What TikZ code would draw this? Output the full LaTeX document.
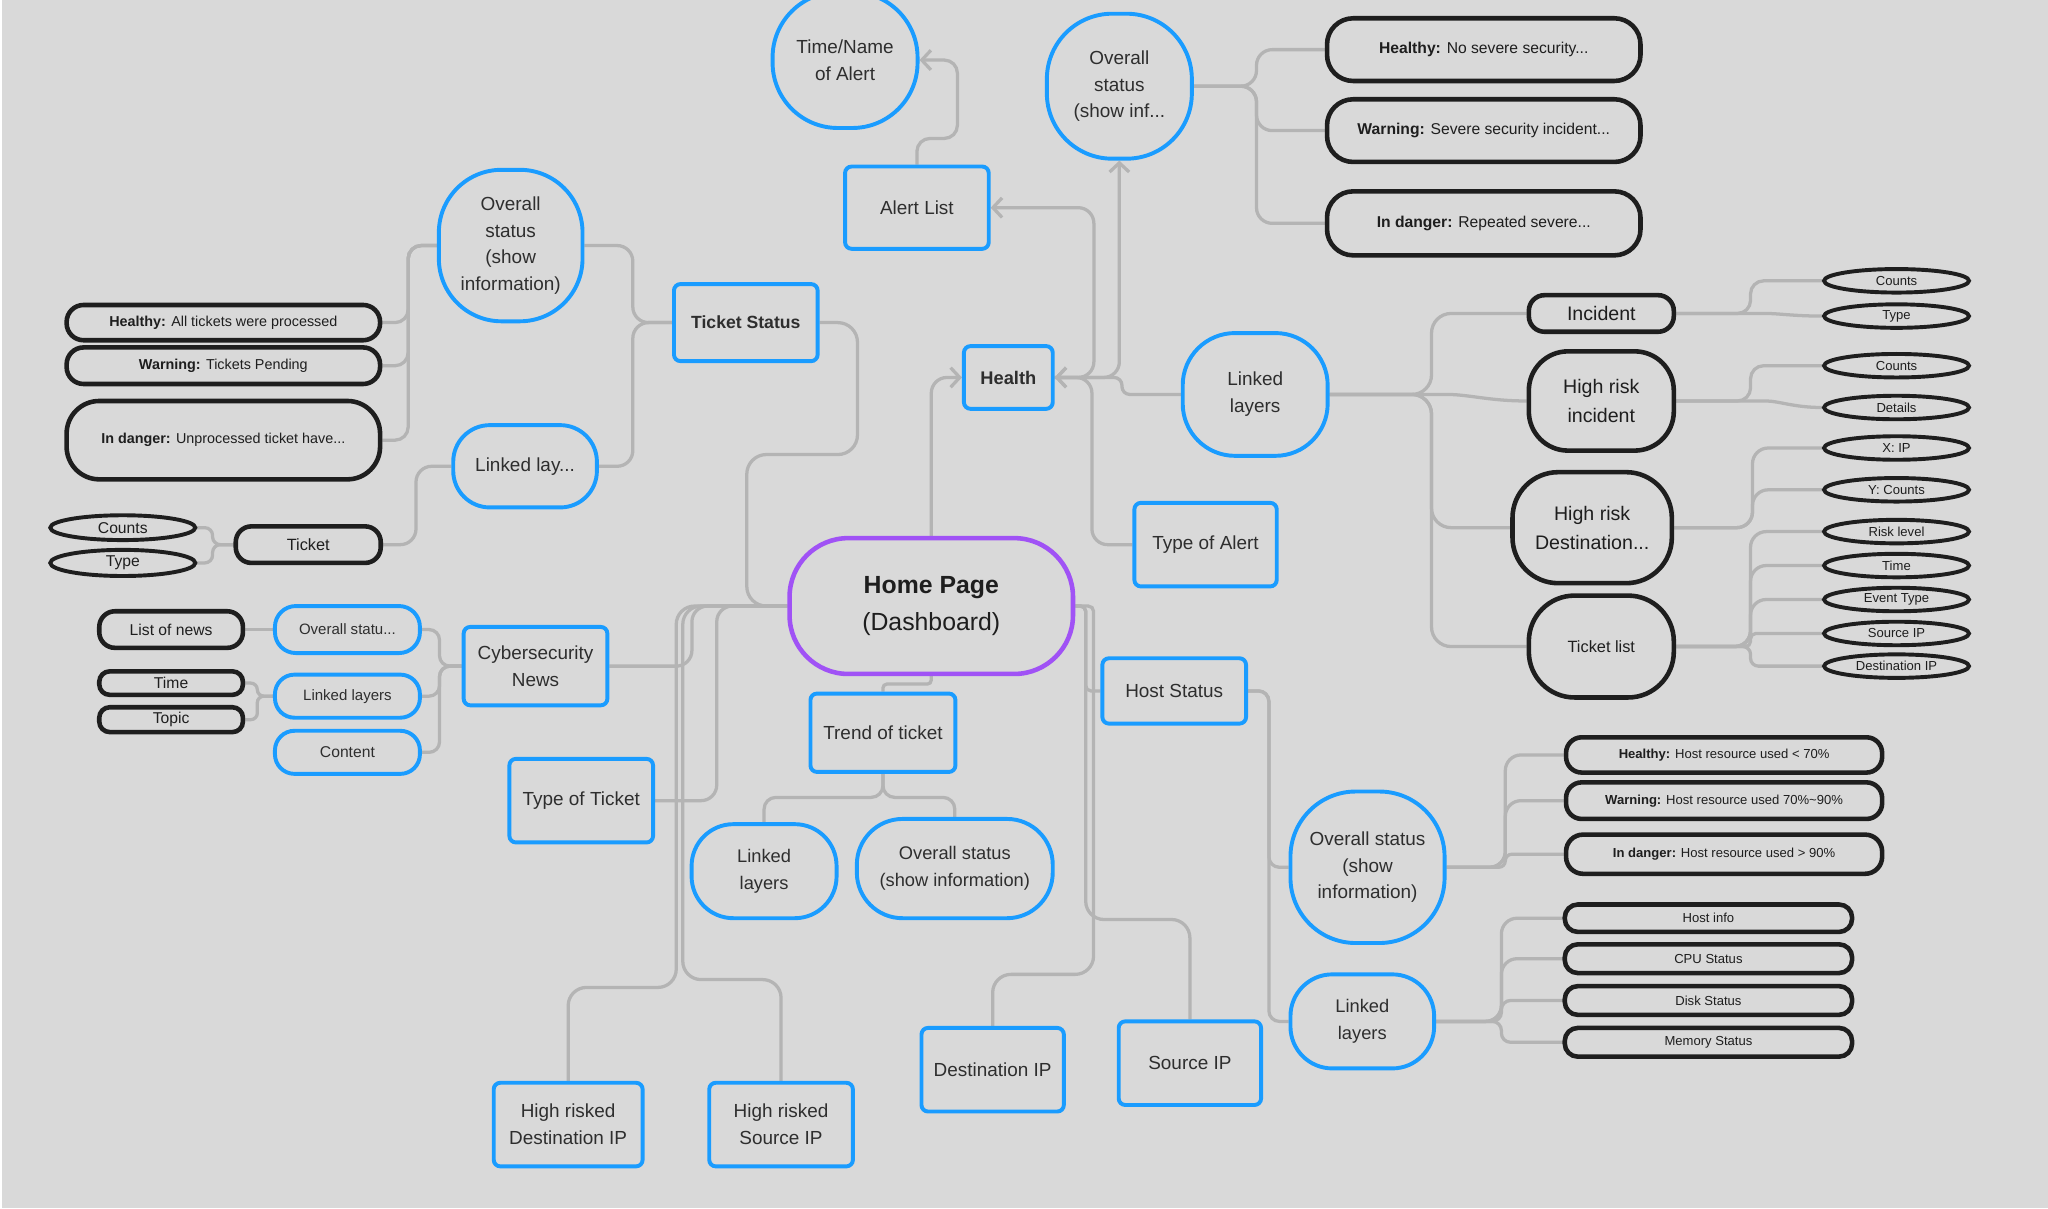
\documentclass[tikz,border=0pt]{standalone}
\usepackage{fontspec}
\setmainfont{Liberation Sans}
\usetikzlibrary{shapes.geometric,arrows.meta}
\pgfdeclarelayer{bgl}
\pgfdeclarelayer{conl}
\pgfsetlayers{bgl,conl,main}
\definecolor{bg}{HTML}{D9D9D9}
\definecolor{myblue}{HTML}{1A9CFF}
\definecolor{myblack}{HTML}{1E1E1E}
\definecolor{mypurple}{HTML}{A052F5}
\definecolor{lineg}{HTML}{B4B4B4}
\definecolor{txt}{HTML}{2E2E2E}
\newcommand\fz[2]{\fontsize{#1}{#2}\selectfont}
\begin{document}
\begin{tikzpicture}[x=1pt,y=-1pt,
  conn/.style={draw=lineg, line width=2.5pt, rounded corners=12pt},
  arr/.style={-{Straight Barb[length=7pt,width=15pt]}},
  nb/.style={draw, fill=bg, align=center, inner sep=0pt, text=txt},
  bluerect/.style={nb, draw=myblue, line width=3pt, rounded corners=5pt, font=\fz{14.5}{20.5}},
  bluepill/.style={nb, draw=myblue, line width=3pt, font=\fz{14.5}{20.5}},
  blk/.style={nb, draw=myblack, line width=3.5pt, text=myblack},
  oval/.style={nb, ellipse, draw=myblack, line width=3pt, text=myblack, minimum width=111pt},
]
\begin{pgfonlayer}{bgl}
\fill[white] (0,0) rectangle (1568,925);
\fill[bg] (1.2,0) rectangle (1568,925);
\end{pgfonlayer}
\useasboundingbox (0,0) rectangle (1568,925);

% ---- top / health area
\node[bluepill, rounded corners=50pt, minimum width=111pt, minimum height=104pt] (tn) at (647,46) {Time/Name\\of Alert};
\node[bluerect, minimum width=110pt, minimum height=63pt] (al) at (702,159) {Alert List};
\node[bluepill, rounded corners=50pt, minimum width=111pt, minimum height=111pt] (ost) at (857,66) {Overall\\status\\(show inf...};
\node[blk, rounded corners=20pt, minimum width=240pt, minimum height=48pt, font=\fz{12}{14}] (th) at (1136,38) {\textbf{Healthy:} No severe security...};
\node[blk, rounded corners=20pt, minimum width=240pt, minimum height=48pt, font=\fz{12}{14}] (tw) at (1136,100) {\textbf{Warning:} Severe security incident...};
\node[blk, rounded corners=20pt, minimum width=240pt, minimum height=49pt, font=\fz{12}{14}] (td) at (1136,171) {\textbf{In danger:} Repeated severe...};
\node[bluerect, minimum width=68pt, minimum height=48pt, font=\bfseries\fz{14}{17}] (health) at (772,289) {Health};
\node[bluepill, rounded corners=40pt, minimum width=111pt, minimum height=94pt] (llr) at (961,302) {Linked\\layers};
\node[bluerect, minimum width=109pt, minimum height=64pt] (toa) at (923,417) {Type of Alert};

% ---- ticket status area
\node[bluerect, minimum width=110pt, minimum height=59pt, font=\bfseries\fz{13.5}{17}] (ts) at (571,247) {Ticket Status};
\node[bluepill, rounded corners=48pt, minimum width=110pt, minimum height=116pt] (ostk) at (391,188) {Overall\\status\\(show\\information)};
\node[blk, rounded corners=13pt, minimum width=240pt, minimum height=27pt, font=\fz{11}{13}] (tkh) at (171,247) {\textbf{Healthy:} All tickets were processed};
\node[blk, rounded corners=13pt, minimum width=240pt, minimum height=28pt, font=\fz{11}{13}] (tkw) at (171,280) {\textbf{Warning:} Tickets Pending};
\node[blk, rounded corners=25pt, minimum width=240pt, minimum height=60pt, font=\fz{11}{13}] (tkd) at (171,337) {\textbf{In danger:} Unprocessed ticket have...};
\node[bluepill, rounded corners=28pt, minimum width=110pt, minimum height=63pt] (lltk) at (402,357) {Linked lay...};
\node[oval, minimum height=19pt, font=\fz{12}{14}] (cnt1) at (94,404) {Counts};
\node[oval, minimum height=20pt, font=\fz{12}{14}] (typ1) at (94,431) {Type};
\node[blk, rounded corners=12pt, minimum width=111pt, minimum height=28pt, font=\fz{12.5}{15}] (tk) at (236,417) {Ticket};

% ---- right: linked layers of health
\node[blk, rounded corners=12pt, minimum width=111pt, minimum height=28pt, font=\fz{15}{18}] (inc) at (1226,240) {Incident};
\node[blk, rounded corners=30pt, minimum width=111pt, minimum height=76pt, font=\fz{15}{22}] (hri) at (1226,307) {High risk\\incident};
\node[blk, rounded corners=35pt, minimum width=122pt, minimum height=85pt, font=\fz{15}{22}] (hrd) at (1219,404) {High risk\\Destination...};
\node[blk, rounded corners=35pt, minimum width=111pt, minimum height=78pt, font=\fz{12.5}{15}] (tl) at (1226,495) {Ticket list};
\node[oval, minimum height=18pt, font=\fz{10}{12}] (e1) at (1452,215) {Counts};
\node[oval, minimum height=18pt, font=\fz{10}{12}] (e2) at (1452,242) {Type};
\node[oval, minimum height=18pt, font=\fz{10}{12}] (e3) at (1452,280) {Counts};
\node[oval, minimum height=18pt, font=\fz{10}{12}] (e4) at (1452,312) {Details};
\node[oval, minimum height=18pt, font=\fz{10}{12}] (e5) at (1452,343) {X: IP};
\node[oval, minimum height=18pt, font=\fz{10}{12}] (e6) at (1452,375) {Y: Counts};
\node[oval, minimum height=18pt, font=\fz{10}{12}] (e7) at (1452,407) {Risk level};
\node[oval, minimum height=18pt, font=\fz{10}{12}] (e8) at (1452,433) {Time};
\node[oval, minimum height=18pt, font=\fz{10}{12}] (e9) at (1452,459) {Event Type};
\node[oval, minimum height=18pt, font=\fz{10}{12}] (e10) at (1452,485) {Source IP};
\node[oval, minimum height=18pt, font=\fz{10}{12}] (e11) at (1452,510) {Destination IP};

% ---- home page
\node[nb, draw=mypurple, line width=3.5pt, rounded corners=45pt, minimum width=217pt, minimum height=104pt, font=\fz{19}{29}, text=myblack] (hp) at (713,464) {\textbf{Home Page}\\(Dashboard)};
\node[bluerect, minimum width=110pt, minimum height=50pt] (hs) at (899,529) {Host Status};
\node[bluerect, minimum width=111pt, minimum height=60pt] (tr) at (676,561) {Trend of ticket};
\node[bluepill, rounded corners=32pt, minimum width=111pt, minimum height=72pt, font=\fz{14}{20.5}] (llb) at (585,667) {Linked\\layers};
\node[bluepill, rounded corners=35pt, minimum width=150pt, minimum height=76pt, font=\fz{14}{20.5}] (osb) at (731,665) {Overall status\\(show information)};

% ---- cybersecurity news
\node[bluerect, minimum width=110pt, minimum height=60pt] (cy) at (410,510) {Cybersecurity\\News};
\node[blk, rounded corners=12pt, minimum width=110pt, minimum height=28pt, font=\fz{12}{14}] (ln) at (131,482) {List of news};
\node[bluepill, rounded corners=16pt, minimum width=111pt, minimum height=36pt, font=\fz{11.5}{14}] (osn) at (266,482) {Overall statu...};
\node[blk, rounded corners=8pt, minimum width=110pt, minimum height=18pt, font=\fz{12}{14}] (tm) at (131,523) {Time};
\node[blk, rounded corners=8pt, minimum width=110pt, minimum height=19pt, font=\fz{12}{14}] (tp) at (131,551) {Topic};
\node[bluepill, rounded corners=15pt, minimum width=111pt, minimum height=33pt, font=\fz{11.5}{14}] (lln) at (266,533) {Linked layers};
\node[bluepill, rounded corners=15pt, minimum width=111pt, minimum height=33pt, font=\fz{12}{14}] (ct) at (266,576) {Content};
\node[bluerect, minimum width=110pt, minimum height=64pt] (tot) at (445,613) {Type of Ticket};

% ---- host status
\node[bluepill, rounded corners=50pt, minimum width=118pt, minimum height=116pt] (osh) at (1047,664) {Overall status\\(show\\information)};
\node[blk, rounded corners=12pt, minimum width=242pt, minimum height=27pt, font=\fz{10}{12}] (hh) at (1320,578) {\textbf{Healthy:} Host resource used < 70\%};
\node[blk, rounded corners=12pt, minimum width=242pt, minimum height=28pt, font=\fz{10}{12}] (hw) at (1320,613) {\textbf{Warning:} Host resource used 70\%\textasciitilde 90\%};
\node[blk, rounded corners=13pt, minimum width=242pt, minimum height=30pt, font=\fz{10}{12}] (hd) at (1320,654) {\textbf{In danger:} Host resource used > 90\%};
\node[bluepill, rounded corners=32pt, minimum width=110pt, minimum height=72pt, font=\fz{14}{20.5}] (llh) at (1043,782) {Linked\\layers};
\node[blk, rounded corners=10pt, minimum width=220pt, minimum height=21pt, font=\fz{10}{12}] (hi) at (1308,703) {Host info};
\node[blk, rounded corners=10pt, minimum width=220pt, minimum height=22pt, font=\fz{10}{12}] (cpu) at (1308,734) {CPU Status};
\node[blk, rounded corners=10pt, minimum width=220pt, minimum height=22pt, font=\fz{10}{12}] (disk) at (1308,766) {Disk Status};
\node[blk, rounded corners=10pt, minimum width=220pt, minimum height=22pt, font=\fz{10}{12}] (mem) at (1308,798) {Memory Status};

% ---- bottom IP boxes
\node[bluerect, minimum width=109pt, minimum height=64pt] (dip) at (760,819) {Destination IP};
\node[bluerect, minimum width=109pt, minimum height=64pt] (sip) at (911,814) {Source IP};
\node[bluerect, minimum width=114pt, minimum height=64pt] (hrdip) at (435,861) {High risked\\Destination IP};
\node[bluerect, minimum width=110pt, minimum height=64pt] (hrsip) at (598,861) {High risked\\Source IP};

% ================= connectors
\begin{pgfonlayer}{conl}
% health hub
\draw[conn,arr] (hp.north) |- (health.west);
\draw[conn,arr] (health.east) -- ++(30,0) |- (al.east);
\draw[conn,arr] (health.east) -| (ost.south);
\draw[conn,arr,rounded corners=6pt] (llr.west) -- ++(-45,0) |- (health.east);
\draw[conn,arr] (toa.west) -- ++(-31,0) |- (health.east);
\draw[conn,arr,rounded corners=10pt] (al.north) -- ++(0,-20) -- ++(31,0) |- (tn.east);
\foreach \t in {th,tw,td} \draw[conn] (ost.east) -- ++(48,0) |- (\t.west);
% ticket status
\draw[conn,rounded corners=15pt] (ts.east) -- ++(29,0) -- ++(0,101) -| ([xshift=-31pt]hp.west) -- (hp.west);
\draw[conn] (ts.west) -- ++(-30,0) |- (ostk.east);
\draw[conn] (ts.west) -- ++(-30,0) |- (lltk.east);
\foreach \t in {tkh,tkw,tkd} \draw[conn,rounded corners=10pt] (ostk.west) -- ++(-22,0) |- (\t.east);
\draw[conn] (lltk.west) -- ++(-27,0) |- (tk.east);
\foreach \t in {cnt1,typ1} \draw[conn,rounded corners=6pt] (tk.west) -- ++(-16,0) |- (\t.east);
% linked layers (health)
\foreach \t in {inc,hrd,tl} \draw[conn,rounded corners=15pt] (llr.east) -- ++(78,0) |- (\t.west);
\draw[conn] (llr.east) -- ++(78,0) to[out=0,in=180] (hri.west);
\draw[conn,rounded corners=10pt] (inc.east) -- ++(57,0) |- (e1.west);
\draw[conn] (inc.east) -- ++(57,0) to[out=0,in=180] (e2.west);
\draw[conn,rounded corners=10pt] (hri.east) -- ++(57,0) |- (e3.west);
\draw[conn] (hri.east) -- ++(57,0) to[out=0,in=180] (e4.west);
\foreach \t in {e5,e6} \draw[conn,rounded corners=12pt] (hrd.east) -- ++(60,0) |- (\t.west);
\foreach \t in {e7,e8,e9} \draw[conn,rounded corners=12pt] (tl.east) -- ++(57,0) |- (\t.west);
\draw[conn,rounded corners=4pt] (tl.east) -- ++(57,0) |- (e10.west);
\draw[conn,rounded corners=6pt] (tl.east) -- ++(57,0) |- (e11.west);
% home page right
\draw[conn,rounded corners=4pt] (hp.east) -- ++(8,0) |- (hs.west);
\draw[conn] (hp.east) [rounded corners=4pt] -- ++(8,0) -- ++(0,40) [rounded corners=14pt] -- ++(0,200) -| (sip.north);
\draw[conn] (hp.east) [rounded corners=4pt] -- ++(14,0) -- ++(0,40) [rounded corners=14pt] -- ++(0,242) -| (dip.north);
\draw[conn,rounded corners=8pt] (hs.east) -- ++(16,0) |- (osh.west);
\draw[conn,rounded corners=8pt] (hs.east) -- ++(16,0) |- (llh.west);
\foreach \t in {hh,hw} \draw[conn,rounded corners=12pt] (osh.east) -- ++(45,0) |- (\t.west);
\draw[conn,rounded corners=5pt] (osh.east) -- ++(45,0) |- (hd.west);
\foreach \t in {hi,cpu} \draw[conn,rounded corners=12pt] (llh.east) -- ++(50,0) |- (\t.west);
\foreach \t in {disk,mem} \draw[conn,rounded corners=7pt] (llh.east) -- ++(50,0) |- (\t.west);
% home page bottom
\draw[conn,rounded corners=3pt] (hp.south) -- ++(0,6) -| (tr.north);
\draw[conn,rounded corners=9pt] (tr.south) -- ++(0,18) -| (llb.north);
\draw[conn,rounded corners=9pt] (tr.south) -- ++(0,18) -| (osb.north);
% home page left
\draw[conn] (hp.west) -- ++(-73,0) |- (cy.east);
\draw[conn] (hp.west) -- ++(-54,0) |- (tot.east);
\draw[conn,rounded corners=14pt] (hp.west) -- ++(-85,0) -- ++(0,292) -| (hrdip.north);
\draw[conn,rounded corners=14pt] (hp.west) -- ++(-80,0) -- ++(0,286) -| (hrsip.north);
% cybersecurity news
\foreach \t in {osn,lln,ct} \draw[conn,rounded corners=8pt] (cy.west) -- ++(-17,0) |- (\t.east);
\draw[conn] (osn.west) -- (ln.east);
\foreach \t in {tm,tp} \draw[conn,rounded corners=5pt] (lln.west) -- ++(-12,0) |- (\t.east);
\end{pgfonlayer}
\end{tikzpicture}
\end{document}
